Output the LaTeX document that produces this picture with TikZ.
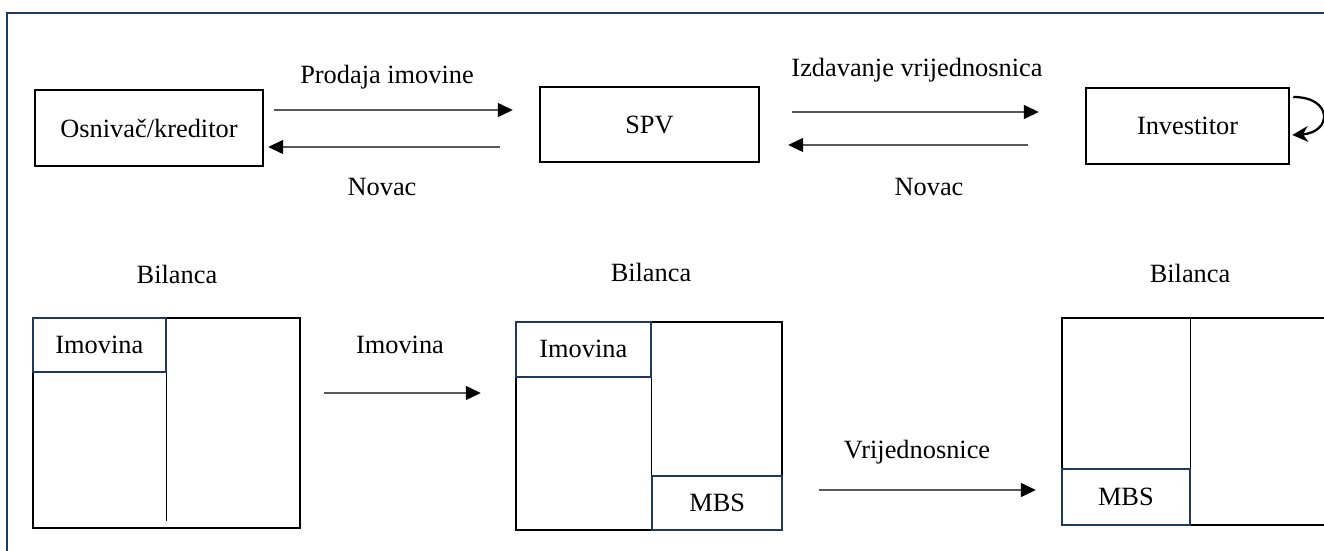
\documentclass[tikz,border=0pt]{standalone}
\usepackage{fontspec}
\setmainfont{Liberation Serif}
\usepackage{tikz}
\usetikzlibrary{positioning, arrows.meta}
\definecolor{navy}{RGB}{31,56,100}

\begin{document}
\begin{tikzpicture}[every node/.style={font=\fontsize{15}{18}\selectfont},
    party/.style={draw, line width=1.4pt, inner sep=0pt},
    sheet/.style={draw, line width=1.4pt, inner sep=0pt},
    part/.style={draw=navy, fill=white, line width=1.2pt, inner sep=0pt},
    flow/.style={line width=0.6pt, -{Triangle[length=8.5pt,width=8pt]}}]
    \useasboundingbox (0,0) rectangle (26.48,-11);
    \draw[navy, line width=1.1pt] (0.14,-12) -- (0.14,-0.26) -- (27,-0.26);

    % parties
    \node[party, minimum width=4.56cm, minimum height=1.52cm] (osn) at (2.98,-2.56) {Osnivač/kreditor};
    \node[party, minimum width=4.38cm, minimum height=1.5cm] (spv) at (12.99,-2.49) {SPV};
    \node[party, minimum width=4.06cm, minimum height=1.52cm] (inv) at (23.75,-2.52) {Investitor};

    \draw[flow] ([shift={(0.2,0.36)}]osn.east) -- ([shift={(-0.52,0.29)}]spv.west);
    \draw[flow] ([shift={(-0.78,-0.45)}]spv.west) -- ([shift={(0.08,-0.38)}]osn.east);
    \draw[flow] ([shift={(0.64,0.25)}]spv.east) -- ([shift={(-0.92,0.28)}]inv.west);
    \draw[flow] ([shift={(-1.14,-0.38)}]inv.west) -- ([shift={(0.56,-0.41)}]spv.east);
    \draw[line width=1.3pt, -{Stealth[length=9pt,width=9pt]}] ([shift={(0.06,0.58)}]inv.east)
        .. controls +(0.8,0) and +(0.8,0.05) .. ([shift={(0.04,-0.18)}]inv.east);

    \node (prod) at (7.74,-1.54) {Prodaja imovine};
    \node (nov1) at (7.64,-3.74) {Novac};
    \node (izd) at (18.34,-1.40) {Izdavanje vrijednosnica};
    \node (nov2) at (18.58,-3.74) {Novac};

    % balance sheets
    \node (bil1) at (3.54,-5.48) {Bilanca};
    \node (bil2) at (13.02,-5.44) {Bilanca};
    \node (bil3) at (23.80,-5.46) {Bilanca};

    \node[sheet, minimum width=5.34cm, minimum height=4.2cm] (bal1) at (3.33,-8.46) {};
    \node[sheet, minimum width=5.32cm, minimum height=4.16cm] (bal2) at (12.98,-8.52) {};
    \node[sheet, minimum width=5.56cm, minimum height=4.14cm] (bal3) at (24.02,-8.43) {};

    \node[part, minimum width=2.66cm, minimum height=1.08cm, anchor=north west] (im1) at (bal1.north west) {Imovina};
    \draw[line width=0.6pt] (im1.south east) -- ++(0,-2.96);

    \node[part, minimum width=2.7cm, minimum height=1.1cm, anchor=north west] (im2) at (bal2.north west) {Imovina};
    \draw[line width=0.6pt] (im2.south east) -- ++(0,-2.92);
    \node[part, minimum width=2.6cm, minimum height=1.08cm, anchor=south east] (mbs2) at (bal2.south east) {MBS};

    \node[part, minimum width=2.56cm, minimum height=1.12cm, anchor=south west] (mbs3) at (bal3.south west) {MBS};
    \draw[line width=0.6pt] (mbs3.north east) -- (mbs3.north east |- bal3.north);

    \draw[flow] ([shift={(0.46,0.6)}]bal1.east) -- ([shift={(-0.68,0.66)}]bal2.west);
    \draw[flow] ([shift={(0.72,-1.28)}]bal2.east) -- ([shift={(-0.5,-1.37)}]bal3.west);
    \node (imv) at (8.0,-6.90) {Imovina};
    \node (vrj) at (18.34,-9.04) {Vrijednosnice};
\end{tikzpicture}
\end{document}
